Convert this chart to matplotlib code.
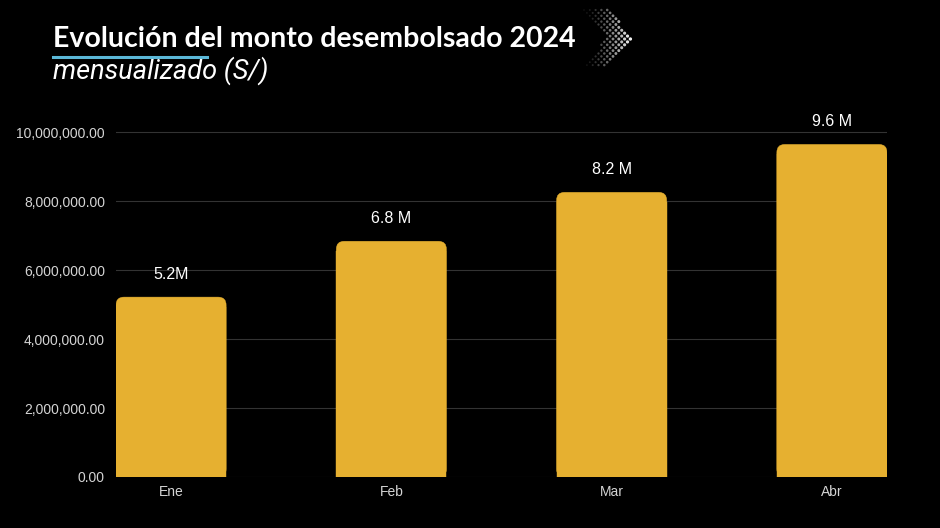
import numpy as np
import matplotlib.pyplot as plt
from matplotlib.patches import FancyBboxPatch
from matplotlib.ticker import FuncFormatter

meses = ["Ene", "Feb", "Mar", "Abr"]
montos = [5.22e6, 6.84e6, 8.26e6, 9.65e6]
etiquetas = ["5.2M", "6.8 M", "8.2 M", "9.6 M"]

fondo = "#000000"
amarillo = "#E6B030"

fig = plt.figure(figsize=(9.4, 5.28), dpi=100, facecolor=fondo)
ax = fig.add_axes([0.1234, 0.0966, 0.8202, 0.6854])
ax.set_facecolor(fondo)

x = np.arange(len(meses))
barras = ax.bar(x, montos, width=0.5, color=amarillo, zorder=2)

# esquinas superiores redondeadas (radio ~8 px)
rx = 0.036
aspecto = 6.4e6
for b in barras:
    b.set_visible(False)
    x0, w, h = b.get_x(), b.get_width(), b.get_height()
    p = FancyBboxPatch((x0, 0), w, h, boxstyle=f"round,pad=0,rounding_size={rx}",
                       mutation_aspect=aspecto, facecolor=amarillo,
                       edgecolor=amarillo, linewidth=0.3, zorder=2)
    ax.add_patch(p)
    ax.add_patch(plt.Rectangle((x0, 0), w, h - rx * aspecto * 1.2, facecolor=amarillo,
                               edgecolor=amarillo, linewidth=0.3, zorder=2))

for xi, v, t in zip(x, montos, etiquetas):
    ax.text(xi, v + 0.66e6, t, ha="center", va="center", color="white",
            fontsize=11.5, family="Liberation Sans")

ax.set_xlim(-0.25, 3.25)
ax.set_ylim(0, 10.5e6)
ax.set_yticks(np.arange(0, 10.1e6, 2e6))
ax.yaxis.set_major_formatter(FuncFormatter(lambda v, p: f"{v:,.2f}"))
ax.set_xticks(x)
ax.set_xticklabels(meses)
ax.tick_params(colors="#d4d4d4", labelsize=10, length=0, pad=8)
for lab in ax.get_xticklabels() + ax.get_yticklabels():
    lab.set_family("Liberation Sans")
ax.tick_params(axis="x", pad=6)
ax.grid(axis="y", color="#333333", linewidth=0.8, zorder=0)
for s in ax.spines.values():
    s.set_visible(False)

# titulo
fig.text(53 / 940, 1 - 47 / 528, "Evolución del monto desembolsado 2024", color="white",
         fontsize=20.5, fontweight="bold", family="Lato", va="baseline", ha="left")
fig.text(53 / 940, 1 - 79 / 528, "mensualizado (S/)", color="white",
         fontsize=19.5, fontstyle="italic", fontweight="normal", family="Roboto",
         va="baseline", ha="left")
fig.add_artist(plt.Line2D([53 / 940, 207 / 940], [1 - 57 / 528, 1 - 57 / 528],
                          color="#5BB8D8", linewidth=2.2, transform=fig.transFigure))

# flecha punteada decorativa (chevron de puntos)
px, py, a, s = [], [], [], []
for fila, gy in enumerate(np.arange(10, 67, 2.9)):
    borde = 633 - abs(gy - 38) * 0.85
    for gx in np.arange(584 + (fila % 2) * 2.9, 636, 5.8):
        if borde - 26 <= gx <= borde:
            f = min(1, max(0, (gx - 586) / 46))
            px.append(gx / 940)
            py.append(1 - gy / 528)
            a.append(0.08 + 0.92 * f ** 1.3)
            s.append(1.5 + 4.5 * f)
cols = [(1, 1, 1, al) for al in a]
sc = fig.add_axes([0, 0, 1, 1], facecolor="none")
sc.set_axis_off()
sc.set_xlim(0, 1)
sc.set_ylim(0, 1)
sc.scatter(px, py, s=s, c=cols, linewidths=0)

fig.savefig("out.png", dpi=100, facecolor=fondo)
